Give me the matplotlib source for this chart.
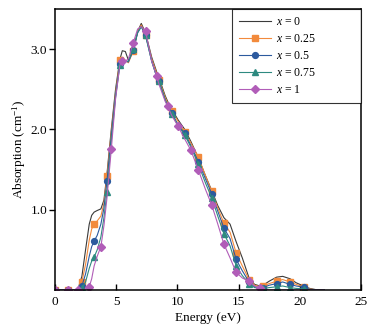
import matplotlib
matplotlib.use("Agg")
import matplotlib.pyplot as plt

plt.rcParams["font.family"] = ["Liberation Serif", "DejaVu Serif"]
plt.rcParams["mathtext.fontset"] = "custom"
plt.rcParams["mathtext.rm"] = "Liberation Serif"
plt.rcParams["mathtext.it"] = "Liberation Serif:italic"

# ---------------- data ----------------
energy = [0.0, 0.55, 1.1, 1.6, 1.9, 2.2, 2.5, 2.8, 3.0, 3.2,
          3.45, 3.75, 4.0, 4.25, 4.6, 4.95, 5.3, 5.5, 5.75, 6.0,
          6.4, 6.75, 7.05, 7.4, 7.9, 8.3, 8.5, 9.0, 9.2, 9.55,
          10.05, 10.6, 11.1, 11.7, 12.3, 12.8, 13.3, 13.8, 14.3, 14.8,
          15.3, 15.85, 16.3, 16.75, 17.0, 17.5, 18.1, 18.6, 19.2, 19.7,
          20.3, 20.8, 21.3, 22.0]

abs_x0 = [0, 0, 0, 0, 0.02, 0.17, 0.5, 0.82, 0.93, 0.97,
          0.99, 1.01, 1.12, 1.45, 2.0, 2.5, 2.87, 2.98, 2.97, 2.86,
          2.98, 3.22, 3.32, 3.2, 2.9, 2.72, 2.64, 2.42, 2.35, 2.25,
          2.12, 2.0, 1.85, 1.65, 1.42, 1.24, 1.05, 0.9, 0.82, 0.6,
          0.4, 0.15, 0.07, 0.05, 0.06, 0.11, 0.16, 0.17, 0.14, 0.09,
          0.05, 0.02, 0.005, 0]

abs_x025 = [0, 0, 0, 0, 0.01, 0.1, 0.32, 0.62, 0.76, 0.82,
            0.86, 0.92, 1.08, 1.42, 1.96, 2.45, 2.86, 2.9, 2.86, 2.83,
            2.98, 3.22, 3.3, 3.18, 2.88, 2.7, 2.62, 2.4, 2.33, 2.23,
            2.1, 1.97, 1.83, 1.66, 1.42, 1.23, 1.02, 0.83, 0.72, 0.46,
            0.3, 0.13, 0.06, 0.04, 0.05, 0.08, 0.11, 0.13, 0.1, 0.07,
            0.04, 0.015, 0, 0]

abs_x05 = [0, 0, 0, 0, 0, 0.05, 0.2, 0.42, 0.54, 0.61,
           0.68, 0.82, 1.02, 1.36, 1.92, 2.42, 2.82, 2.86, 2.85, 2.84,
           2.99, 3.2, 3.28, 3.17, 2.85, 2.66, 2.6, 2.37, 2.3, 2.2,
           2.06, 1.95, 1.8, 1.6, 1.38, 1.2, 0.98, 0.77, 0.64, 0.38,
           0.24, 0.1, 0.04, 0.03, 0.03, 0.06, 0.08, 0.1, 0.07, 0.05,
           0.035, 0.01, 0, 0]

abs_x075 = [0, 0, 0, 0, 0, 0.02, 0.1, 0.27, 0.36, 0.41,
            0.5, 0.66, 0.9, 1.22, 1.85, 2.4, 2.8, 2.85, 2.85, 2.85,
            3.0, 3.21, 3.28, 3.17, 2.85, 2.66, 2.6, 2.37, 2.3, 2.19,
            2.05, 1.93, 1.78, 1.57, 1.33, 1.15, 0.92, 0.7, 0.55, 0.3,
            0.18, 0.08, 0.03, 0.02, 0.02, 0.03, 0.04, 0.05, 0.03, 0.02,
            0.015, 0.005, 0, 0]

abs_x1 = [0, 0, 0, 0, 0, 0, 0.01, 0.04, 0.14, 0.3,
          0.42, 0.54, 0.8, 1.15, 1.75, 2.38, 2.8, 2.85, 2.85, 2.88,
          3.08, 3.25, 3.28, 3.22, 2.85, 2.67, 2.56, 2.35, 2.29, 2.17,
          2.04, 1.88, 1.74, 1.5, 1.25, 1.06, 0.82, 0.57, 0.4, 0.22,
          0.15, 0.11, 0.05, 0.02, 0.01, 0, 0, 0, 0, 0,
          0, 0, 0, 0]

labels = ["$x$ = 0", "$x$ = 0.25", "$x$ = 0.5", "$x$ = 0.75", "$x$ = 1"]

# marker positions (indices into energy)
marks_a = [0, 2, 5, 9, 13, 16, 20, 23, 26, 29, 31, 33, 35, 37, 39, 41, 44, 46, 48, 50]
marks_b = [0, 2, 4, 7, 11, 14, 17, 20, 23, 25, 28, 30, 32, 33, 35, 37, 39, 41, 43]

# ---------------- plot ----------------
fig = plt.figure(figsize=(3.87, 3.32), dpi=100)
ax = fig.add_axes([0.142, 0.1265, 0.791, 0.8465])

series = [
    (abs_x0, "#3a3a3a", None, None),
    (abs_x025, "#f28a3c", "s", marks_a),
    (abs_x05, "#2c5a9e", "o", marks_a),
    (abs_x075, "#2e8a80", "^", marks_a),
    (abs_x1, "#b15db8", "D", marks_b),
]
for (vals, color, mk, me), lab in zip(series, labels):
    ax.plot(energy, vals, color=color, lw=0.8, marker=mk, markevery=me,
            markersize=4.2 if mk != "D" else 3.8, label=lab)

ax.set_xlim(0, 25)
ax.set_ylim(0, 3.5)
ax.set_xticks([0, 5, 10, 15, 20, 25])
ax.set_yticks([1.0, 2.0, 3.0])
ax.set_yticklabels(["1.0", "2.0", "3.0"])
ax.tick_params(axis="x", direction="in", length=4, width=1, labelsize=9.5, pad=4)
ax.tick_params(axis="y", direction="out", length=4, width=1, labelsize=9.5, pad=1.5)
for s in ax.spines.values():
    s.set_linewidth(1.1)

ax.set_xlabel("Energy (eV)", fontsize=9.5, labelpad=3)
ax.set_ylabel("Absorption (cm$^{-1}$)", fontsize=9.5, labelpad=2)

# wide legend box flush with the top-right corner
leg = ax.legend(loc="upper left", bbox_to_anchor=(0.578, 0.0, 0.422, 1.0),
                mode="expand", fontsize=8.5, frameon=True, fancybox=False,
                edgecolor="black", borderaxespad=0, handlelength=2.7,
                labelspacing=0.42, borderpad=0.6, handletextpad=0.4)
leg.get_frame().set_linewidth(0.8)

fig.savefig("out.png", dpi=100)
